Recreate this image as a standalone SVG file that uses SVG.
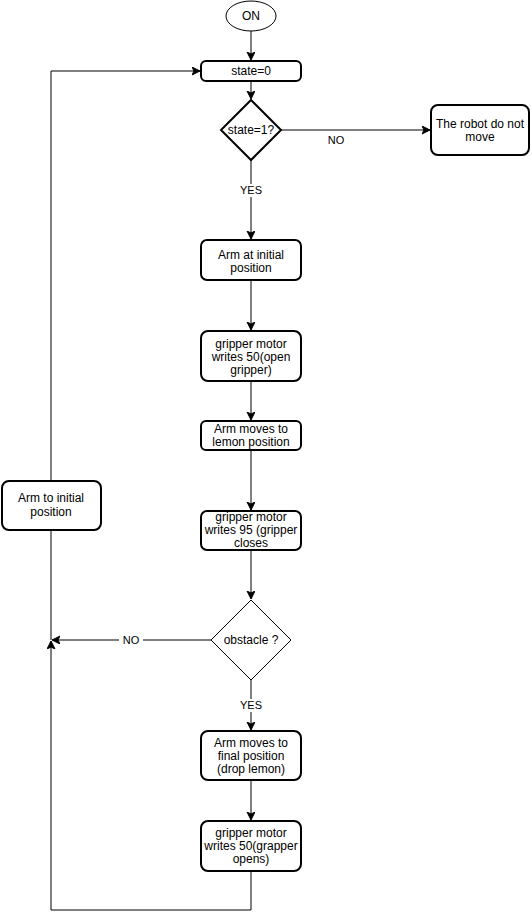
<svg xmlns="http://www.w3.org/2000/svg" width="532" height="919" viewBox="0 0 532 919">
<style>
.n{fill:#fff;stroke:#000;stroke-width:2}
.thin{fill:#fff;stroke:#000;stroke-width:1}
.t{font-family:"Liberation Sans",Arial,sans-serif;font-size:12px;fill:#000;text-anchor:middle}
.l{font-family:"Liberation Sans",Arial,sans-serif;font-size:11px;fill:#000;text-anchor:middle}
.c{fill:none;stroke:#000;stroke-width:1}
</style>
<defs>
<marker id="a" markerUnits="userSpaceOnUse" markerWidth="10" markerHeight="10" viewBox="0 0 10 10" refX="8" refY="4" orient="auto">
<path d="M0,0 L8,4 L0,8 L2,4 z" fill="#000" stroke="#000" stroke-width="1"/>
</marker>
</defs>
<rect width="532" height="919" fill="#fff"/>
<g id="connectors">
<path class="c" d="M251,31 V60" marker-end="url(#a)"/>
<path class="c" d="M251,81 V99" marker-end="url(#a)"/>
<path class="c" d="M281,130 H430" marker-end="url(#a)"/>
<path class="c" d="M251,160 V239" marker-end="url(#a)"/>
<path class="c" d="M251,280 V330" marker-end="url(#a)"/>
<path class="c" d="M251,381 V420" marker-end="url(#a)"/>
<path class="c" d="M251,450 V510" marker-end="url(#a)"/>
<path class="c" d="M251,550 V599" marker-end="url(#a)"/>
<path class="c" d="M211,640 H52" marker-end="url(#a)"/>
<path class="c" d="M251,680 V730" marker-end="url(#a)"/>
<path class="c" d="M251,780 V820" marker-end="url(#a)"/>
<path class="c" d="M251,871 V910 H51 V641" marker-end="url(#a)"/>
<path class="c" d="M51,640 V530"/>
<path class="c" d="M51,481 V71 H200" marker-end="url(#a)"/>
<text class="l" x="336" y="144">NO</text>
<rect x="238" y="184" width="26" height="13" fill="#fff"/>
<text class="l" x="251" y="194">YES</text>
<rect x="119" y="634" width="24" height="13" fill="#fff"/>
<text class="l" x="131" y="644">NO</text>
<rect x="238" y="699" width="26" height="13" fill="#fff"/>
<text class="l" x="251" y="709">YES</text>
</g>
<g id="on"><ellipse class="thin" cx="251" cy="16" rx="25" ry="15"/><text class="t" x="251" y="20">ON</text></g>
<g id="state0"><rect class="n" x="201" y="61" width="100" height="20" rx="5"/><text class="t" x="251" y="75">state=0</text></g>
<g id="state1"><path class="n" d="M251,100 L281,130 L251,160 L221,130 Z"/><text class="t" x="251" y="134">state=1?</text></g>
<g id="robot"><rect class="n" x="431" y="105" width="98" height="50" rx="7"/><text class="t" x="480" y="128">The robot do not</text><text class="t" x="480" y="141">move</text></g>
<g id="arminit"><rect class="n" x="201" y="240" width="100" height="40" rx="6"/><text class="t" x="251" y="259">Arm at initial</text><text class="t" x="251" y="272">position</text></g>
<g id="grip1"><rect class="n" x="201" y="331" width="100" height="50" rx="7"/><text class="t" x="251" y="348">gripper motor</text><text class="t" x="251" y="361">writes 50(open</text><text class="t" x="251" y="374">gripper)</text></g>
<g id="armlemon"><rect class="n" x="201" y="421" width="100" height="29" rx="5"/><text class="t" x="251" y="433">Arm moves to</text><text class="t" x="251" y="446">lemon position</text></g>
<g id="grip2"><rect class="n" x="201" y="511" width="100" height="39" rx="6"/><text class="t" x="251" y="521">gripper motor</text><text class="t" x="251" y="534">writes 95 (gripper</text><text class="t" x="251" y="547">closes</text></g>
<g id="obstacle"><path class="thin" d="M251,600 L291,640 L251,680 L211,640 Z"/><text class="t" x="251" y="644">obstacle ?</text></g>
<g id="armfinal"><rect class="n" x="201" y="731" width="100" height="49" rx="7"/><text class="t" x="251" y="747">Arm moves to</text><text class="t" x="251" y="760">final position</text><text class="t" x="251" y="773">(drop lemon)</text></g>
<g id="grip3"><rect class="n" x="201" y="821" width="100" height="50" rx="7"/><text class="t" x="251" y="837">gripper motor</text><text class="t" x="251" y="850">writes 50(grapper</text><text class="t" x="251" y="863">opens)</text></g>
<g id="armtoinit"><rect class="n" x="2" y="481" width="99" height="49" rx="7"/><text class="t" x="51" y="502">Arm to initial</text><text class="t" x="51" y="516">position</text></g>
</svg>
